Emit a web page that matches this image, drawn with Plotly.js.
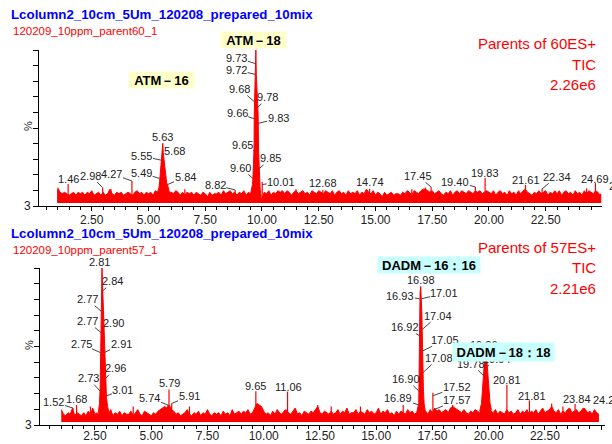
<!DOCTYPE html>
<html><head><meta charset="utf-8">
<script src="https://cdn.plot.ly/plotly-3.0.1.min.js"></script>
<style>html,body{margin:0;padding:0;background:#fff}</style>
</head><body><div id="chart" style="width:612px;height:444px"></div>
<script>
// ---------------- DATA ----------------
// baseline noise, % of full scale, sampled every 0.1 min from 1.0 min
const noiseStartTime = 1.0;
const noiseStepTime = 0.1;
const topNoise = [
 10,7,6,7,6,5,6,7,5,7,
 6,7,5,7,6,8,5,6,7,5,
 7,5,6,9,6,5,7,6,7,5,
 6,7,6,5,7,8,6,7,5,7,
 6,7,5,8,7,8,7,9,8,7,
 7,6,8,7,5,7,5,7,6,7,
 5,7,6,5,7,6,4,7,5,6,
 6,7,5,8,6,7,8,6,7,5,
 7,6,8,5,7,6,8,8,9,4,
 3,7,6,8,5,7,6,8,7,8,
 6,8,7,5,7,8,6,7,8,6,
 7,5,8,7,6,8,7,6,8,7,
 6,8,5,7,8,6,7,5,8,6,
 7,6,8,5,7,6,9,7,6,8,
 5,7,6,4,7,5,6,7,5,6,
 6,5,7,6,8,7,5,8,7,6,
 8,9,9,8,7,8,6,7,8,6,
 5,7,6,8,5,7,8,6,8,7,
 6,8,7,6,8,7,8,6,7,8,
 7,6,8,5,7,8,6,7,5,8,
 6,7,5,8,6,8,9,7,6,5,
 7,6,8,6,7,8,5,7,6,8,
 6,8,5,7,8,6,7,5,8,6,
 7,5,8,6,8,7,6,8,7,5
];
const bottomNoise = [
 8,5,4,6,5,9,4,6,5,4,
 6,4,7,5,9,5,6,4,5,6,
 7,5,8,4,6,5,7,4,6,5,
 5,7,4,6,8,5,4,7,6,5,
 4,6,5,7,8,9,10,9,11,8,
 7,5,6,4,5,6,8,5,4,6,
 5,7,4,6,5,8,5,4,6,5,
 6,4,7,5,6,4,8,5,6,7,
 5,7,6,8,5,6,9,12,11,10,
 7,5,6,4,7,5,8,6,5,7,
 8,6,5,7,9,5,6,4,7,6,
 5,7,6,8,10,6,5,7,6,5,
 7,5,6,8,5,7,6,9,5,6,
 6,8,5,7,6,5,8,6,7,5,
 6,9,5,7,6,8,5,6,4,7,
 5,7,6,5,8,6,7,5,6,7,
 8,6,7,5,8,6,9,7,8,6,
 7,8,6,9,10,9,8,7,6,8,
 6,5,7,6,8,7,6,7,9,10,
 8,7,6,8,5,7,6,5,8,6,
 7,5,6,8,5,7,6,8,5,7,
 6,8,5,7,9,6,7,8,10,7,
 6,8,5,7,6,8,9,6,7,8,
 6,7,9,8,6,7,5,8,6,5
];

// top panel: peak profiles (ATM-16, ATM-18)
const atm16Time  = [5.38,5.42,5.46,5.49,5.52,5.55,5.58,5.61,5.63,5.65,5.68,5.71,5.75,5.80,5.84,5.88,5.93];
const atm16Level = [6,8,10,14,20,28,31,35,39,33,29,22,16,13,12,8,6];
const atm18Time  = [9.50,9.55,9.58,9.60,9.63,9.65,9.66,9.68,9.70,9.72,9.73,9.75,9.78,9.80,9.83,9.85,9.88,9.92,9.96];
const atm18Level = [6,9,12,16,26,36,58,74,80,88,100,84,72,64,58,34,16,9,4];
// top panel: isolated spikes
const topSpikeTime  = [1.0,1.46,2.98,3.35,4.27,6.6,8.82,10.01,11.5,12.68,14.74,16.6,17.2,17.45,19.40,19.83,21.61,22.34,24.3,24.69,24.92];
const topSpikeLevel = [9,12.4,10,9,14.4,9,8.5,13.7,9,8.5,9.2,9,10,10.5,10.5,16.3,11.8,9.2,9.5,13,6];
// top panel: labelled peaks (time, level)
const topLabelTime  = [1.46,2.98,4.27,5.49,5.55,5.63,5.68,5.84,8.82,9.60,9.65,9.66,9.68,9.72,9.73,9.78,9.83,9.85,10.01,12.68,14.74,17.45,19.40,19.83,21.61,22.34,24.69,24.92];
const topLabelLevel = [12.4,10,14.4,16,28,39,30,12,8.5,16,34,55,66,84,91,62,52,22,12,8.5,9.2,10.5,10.5,16.3,11.8,9.2,13,5];

// bottom panel: peak profiles (2.81, DADM-16:16, DADM-18:18)
const p281Time  = [2.65,2.70,2.73,2.75,2.77,2.79,2.81,2.84,2.87,2.90,2.91,2.94,2.96,3.01,3.06,3.12];
const p281Level = [6,12,22,45,70,85,100,88,75,60,48,38,28,16,10,6];
const dadm16Time  = [16.80,16.86,16.89,16.90,16.92,16.93,16.95,16.98,17.01,17.03,17.04,17.05,17.08,17.10,17.13,17.18];
const dadm16Level = [6,9,12,22,58,80,84,88,80,70,62,48,32,20,12,7];
const dadm18Time  = [19.60,19.68,19.72,19.76,19.78,19.82,19.86,19.90,19.94,19.98,20.02,20.06,20.12];
const dadm18Level = [7,12,20,30,34,45,50,44,36,26,18,12,8];
// bottom panel: isolated spikes
const bottomSpikeTime  = [1.52,1.68,2.3,4.2,5.74,5.79,5.91,6.7,9.65,11.06,12.4,13.0,14.3,16.2,17.52,17.57,18.4,20.81,21.81,22.8,23.3,23.84,24.26];
const bottomSpikeLevel = [9,11,10,10,11,21,12,10,20,19.7,11,10,10,11,19,8,11,24,14,12,10,11.7,9];
// bottom panel: labelled peaks
const bottomLabelTime  = [1.52,1.68,2.73,2.75,2.77,2.77,2.81,2.84,2.90,2.91,2.96,3.01,5.74,5.79,5.91,9.65,11.06,16.89,16.90,16.92,16.93,16.98,17.01,17.04,17.05,17.08,17.52,17.57,19.86,19.94,19.78,20.81,21.81,23.84,24.26];
const bottomLabelLevel = [9,11,20,45,72,58,100,85,60,45,28,17,11,21,12,20,19.7,11,20,56,80,88.5,80,60,46,32,17,8,50,36,30,24,14,11.7,8];

// texts
const panelTitle = ["Lcolumn2_10cm_5Um_120208_prepared_10mix", "Lcolumn2_10cm_5Um_120208_prepared_10mix"];
const panelSample = ["120209_10ppm_parent60_1", "120209_10ppm_parent57_1"];
const panelFunction = ["Parents of 60ES+", "Parents of 57ES+"];
const panelTrace = ["TIC", "TIC"];
const panelScale = ["2.26e6", "2.21e6"];
const yBottomLabel = "3";
const yUnit = "%";
const compoundTop = ["ATM－16", "ATM－18"];
const compoundBottom = ["DADM－16：16", "DADM－18：18"];

// ---------------- LAYOUT HELPERS ----------------
const W = 612, H = 444;
const FONT = "Liberation Sans, Arial, sans-serif";
const RED = "#ff0000";
const px = p => p / W;
const py = p => 1 - p / H;

// label text offsets (dx, dy in px from the labelled point; mode: 0 centred, 1 leader line, 2 left-anchored)
const topLabelOffset = [
 [0,-5,0],[-12,-12,1],[-20,-7,1],[-18,-5.5,1],[-19,-4,1],[0,-6,0],[11,-6,1],[17.5,-7.6,1],[-20,-5,1],
 [-12,-10.5,1],[-12,-6,1],[-17,-6,1],[-15,-13,1],[-19,-4.5,1],[-19,-6,1],[11,-11,1],[20,-5,1],[12,-11,1],[19,-3,1],
 [0,-7,0],[0,-7,0],[-13.5,-11,1],[-20,-5,1],[0,-5,0],[0,-5,0],[14.5,-12,1],[0,-4,0],[7.5,-9,2]
];
const bottomLabelOffset = [
 [-19,-6,1],[0,-6,0],[-12,-13,1],[-19.6,-8.7,1],[-14,-12,1],[-14,-11.6,1],[-2,-6,0],[10.3,-10,1],[10,-6.6,1],[16.8,-8.6,1],[9.7,-10.8,1],[16.5,-5.7,1],
 [-17.9,-7,1],[0,-6.6,0],[17.3,-7.4,1],[0,-5,0],[0.9,-4.6,0],
 [-20.3,-7,1],[-12.5,-12,1],[-14,-8.7,1],[-19.2,-3,1],[0.7,-5.7,0],[23,-5.5,1],[15.9,-13.9,1],[23,-11.4,1],[15.5,-14.7,1],[24,-8.7,1],[23.4,-9.6,1],
 [-2,0,0],[10,-8,1],[-12.3,-11.7,1],[0.5,-5,0],[3,-4.4,0],[2.3,-5,0],[7,-9.6,2]
];

function grid(arr){ return arr.map((_, i) => +(noiseStartTime + noiseStepTime * i).toFixed(2)); }
function filled(x, y, xa, ya){
  return {type:'scatter', mode:'lines', x:x, y:y, xaxis:xa, yaxis:ya, fill:'tozeroy',
          fillcolor:RED, line:{color:RED, width:1}, hoverinfo:'skip', showlegend:false};
}
function spikes(t, h, xa, ya){
  const x = [], y = [];
  t.forEach((v, i) => { x.push(v, v, null); y.push(0, h[i], null); });
  return {type:'scatter', mode:'lines', x:x, y:y, xaxis:xa, yaxis:ya, connectgaps:false,
          line:{color:RED, width:1.2}, hoverinfo:'skip', showlegend:false};
}
function labels(times, levels, offs, xa, ya){
  return times.map((t, i) => {
    const o = offs[i];
    const base = {xref:xa, yref:ya, x:t, y:levels[i], text:t.toFixed(2),
      font:{family:FONT, size:11, color:'#222'}};
    if (o[2] === 1) {
      return Object.assign(base, {showarrow:true, ax:o[0], ay:o[1], arrowhead:0, arrowwidth:1,
        arrowcolor:'#444', standoff:0, startstandoff:0, borderpad:0});
    }
    return Object.assign(base, {showarrow:false, xanchor:(o[2] === 2 ? 'left' : 'center'), yanchor:'middle',
      xshift:o[0], yshift:-o[1], borderpad:0});
  });
}
function paperText(text, x, y, opts){
  return Object.assign({xref:'paper', yref:'paper', x:px(x), y:py(y), text:text, showarrow:false,
    xanchor:'left', yanchor:'middle', font:{family:FONT, size:11, color:'#222'}}, opts || {});
}

const data = [
  filled(grid(topNoise), topNoise, 'x', 'y'),
  filled(atm16Time, atm16Level, 'x', 'y'),
  filled(atm18Time, atm18Level, 'x', 'y'),
  spikes(topSpikeTime, topSpikeLevel, 'x', 'y'),
  filled(grid(bottomNoise), bottomNoise, 'x2', 'y2'),
  filled(p281Time, p281Level, 'x2', 'y2'),
  filled(dadm16Time, dadm16Level, 'x2', 'y2'),
  filled(dadm18Time, dadm18Level, 'x2', 'y2'),
  spikes(bottomSpikeTime, bottomSpikeLevel, 'x2', 'y2')
];

function xAxis(dom, rng, anchor, standoff){
  return {domain:dom, range:rng, anchor:anchor, showline:true, linecolor:'#000', linewidth:1,
    ticks:'outside', ticklen:4, tickcolor:'#000', tick0:0, dtick:2.5, tickformat:'.2f',
    ticklabelstandoff:standoff,
    tickfont:{family:FONT, size:12, color:'#222'}, showgrid:false, zeroline:false, fixedrange:true,
    minor:{tick0:0, dtick:0.5, ticks:'outside', ticklen:3, tickcolor:'#000', showgrid:false}};
}
function yAxis(dom, anchor){
  return {domain:dom, range:[-2,100], anchor:anchor, showline:true, linecolor:'#000', linewidth:1,
    ticks:'outside', ticklen:5, tickcolor:'#000', tickvals:[-2], ticktext:[yBottomLabel],
    tickfont:{family:FONT, size:12, color:'#222'}, showgrid:false, zeroline:false, fixedrange:true,
    minor:{tick0:-2, dtick:10.2, ticks:'outside', ticklen:5, tickcolor:'#000', showgrid:false}};
}

const ann = [];
ann.push(...labels(topLabelTime, topLabelLevel, topLabelOffset, 'x', 'y'));
ann.push(...labels(bottomLabelTime, bottomLabelLevel, bottomLabelOffset, 'x2', 'y2'));
// titles
[[15,31,44],[233,250,247]].forEach((r, k) => {
  ann.push(paperText('<b>' + panelTitle[k] + '</b>', 9, r[0], {font:{family:FONT, size:13.3, color:'#0000ff'}}));
  ann.push(paperText(panelSample[k], 11, r[1], {font:{family:FONT, size:11.5, color:RED}}));
  ann.push(paperText(panelFunction[k], 598, r[2], {xanchor:'right', font:{family:FONT, size:15, color:RED}}));
  ann.push(paperText(panelTrace[k], 598, r[2] + 20.5, {xanchor:'right', font:{family:FONT, size:15, color:RED}}));
  ann.push(paperText(panelScale[k], 598, r[2] + 41, {xanchor:'right', font:{family:FONT, size:15, color:RED}}));
});
// % units
ann.push(paperText(yUnit, 28, 126, {xanchor:'center', textangle:-90, font:{family:FONT, size:11, color:'#222'}}));
ann.push(paperText(yUnit, 29, 345, {xanchor:'center', textangle:-90, font:{family:FONT, size:11, color:'#222'}}));
// compound boxes
const boxFont = {family:FONT, size:13, color:'#000'};
ann.push(paperText('<b>' + compoundTop[0] + '</b>', 161.5, 80.5, {xanchor:'center', bgcolor:'#ffffc8', width:63, height:14, borderpad:1, font:boxFont}));
ann.push(paperText('<b>' + compoundTop[1] + '</b>', 253.5, 40, {xanchor:'center', bgcolor:'#ffffc8', width:63, height:14, borderpad:1, font:boxFont}));
ann.push(paperText('<b>' + compoundBottom[0] + '</b>', 429.5, 265, {xanchor:'center', bgcolor:'#c8ffff', width:100, height:14, borderpad:1, font:boxFont}));
ann.push(paperText('<b>' + compoundBottom[1] + '</b>', 503.5, 352, {xanchor:'center', bgcolor:'#c8ffff', width:99, height:16, borderpad:1, font:boxFont}));

const layout = {
  width:W, height:H, margin:{l:0, r:0, t:0, b:0}, paper_bgcolor:'#fff', plot_bgcolor:'rgba(0,0,0,0)',
  showlegend:false,
  xaxis: xAxis([39/W, 602/W], [0.176, 24.98], 'y', -1),
  yaxis: yAxis([1 - 206/H, 1 - 50/H], 'x'),
  xaxis2: xAxis([40/W, 605/W], [0.056, 25.17], 'y2', -4),
  yaxis2: yAxis([1 - 425/H, 1 - 268/H], 'x2'),
  annotations: ann
};
Plotly.newPlot('chart', data, layout, {staticPlot:true, displayModeBar:false});
</script></body></html>
